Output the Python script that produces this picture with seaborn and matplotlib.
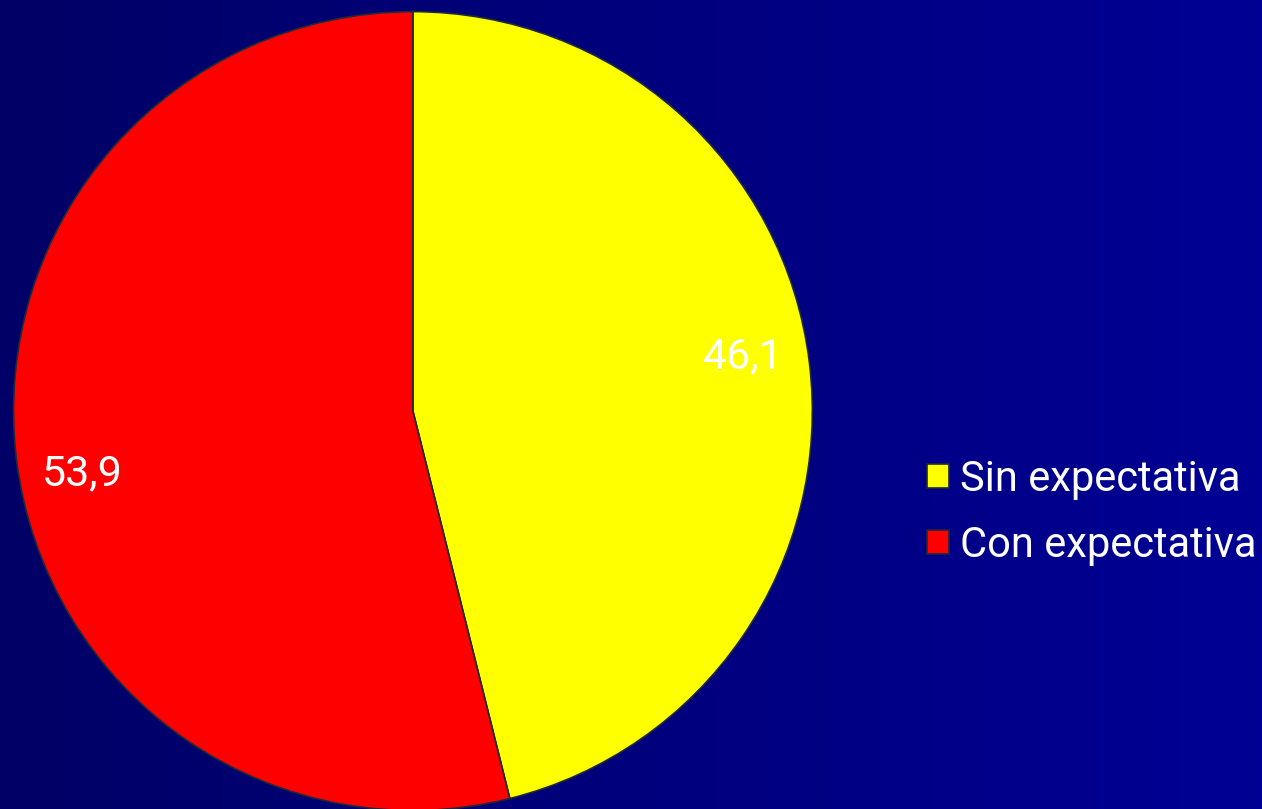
import matplotlib
matplotlib.use('Agg')
import matplotlib.pyplot as plt
import matplotlib.patches as mpatches
import seaborn as sns
import numpy as np

sns.set_theme(style='white')
plt.rcParams['font.family'] = ['Roboto', 'DejaVu Sans']

# data
categories = ['Sin expectativa', 'Con expectativa']
values = [46.1, 53.9]
colors = ['#ffff00', '#ff0000']
labels = [f'{v:.1f}'.replace('.', ',') for v in values]

fig = plt.figure(figsize=(12.62, 8.09), dpi=100)

# blue gradient background, darker on the left
bg = fig.add_axes([0, 0, 1, 1], zorder=-1)
grad = np.linspace(0, 1, 256).reshape(1, -1)
cmap = matplotlib.colors.LinearSegmentedColormap.from_list('bg', ['#000066', '#000094'])
bg.imshow(grad, aspect='auto', cmap=cmap, extent=[0, 1, 0, 1])
bg.axis('off')

ax = fig.add_axes([0.0107, -0.0019, 0.633, 0.9876])
ax.set_facecolor('none')
wedges, texts = ax.pie(values, labels=labels, colors=colors, startangle=90,
                       counterclock=False, radius=1, labeldistance=0.84,
                       wedgeprops={'edgecolor': '#1c2a3a', 'linewidth': 1.2},
                       textprops={'color': 'white', 'fontsize': 31})
# labels sit a little counter-clockwise of each wedge's middle
for w, t in zip(wedges, texts):
    ang = np.deg2rad((w.theta1 + w.theta2) / 2 + 3.0)
    t.set_position((0.84 * np.cos(ang), 0.84 * np.sin(ang)))
    t.set_horizontalalignment('center')
    t.set_verticalalignment('center_baseline')
ax.set_xlim(-1, 1)
ax.set_ylim(-1, 1)
ax.set_aspect('equal')
ax.axis('off')

handles = [mpatches.Patch(facecolor=c, edgecolor='#1c2a3a', linewidth=1.2) for c in colors]
leg = fig.legend(handles, categories, loc='center left', bbox_to_anchor=(0.7346, 0.367),
                 frameon=False, fontsize=30, handlelength=0.53, handleheight=0.53,
                 handletextpad=0.26, labelspacing=0.6, labelcolor='white',
                 borderpad=0, borderaxespad=0)

fig.savefig('out.png', dpi=100)
